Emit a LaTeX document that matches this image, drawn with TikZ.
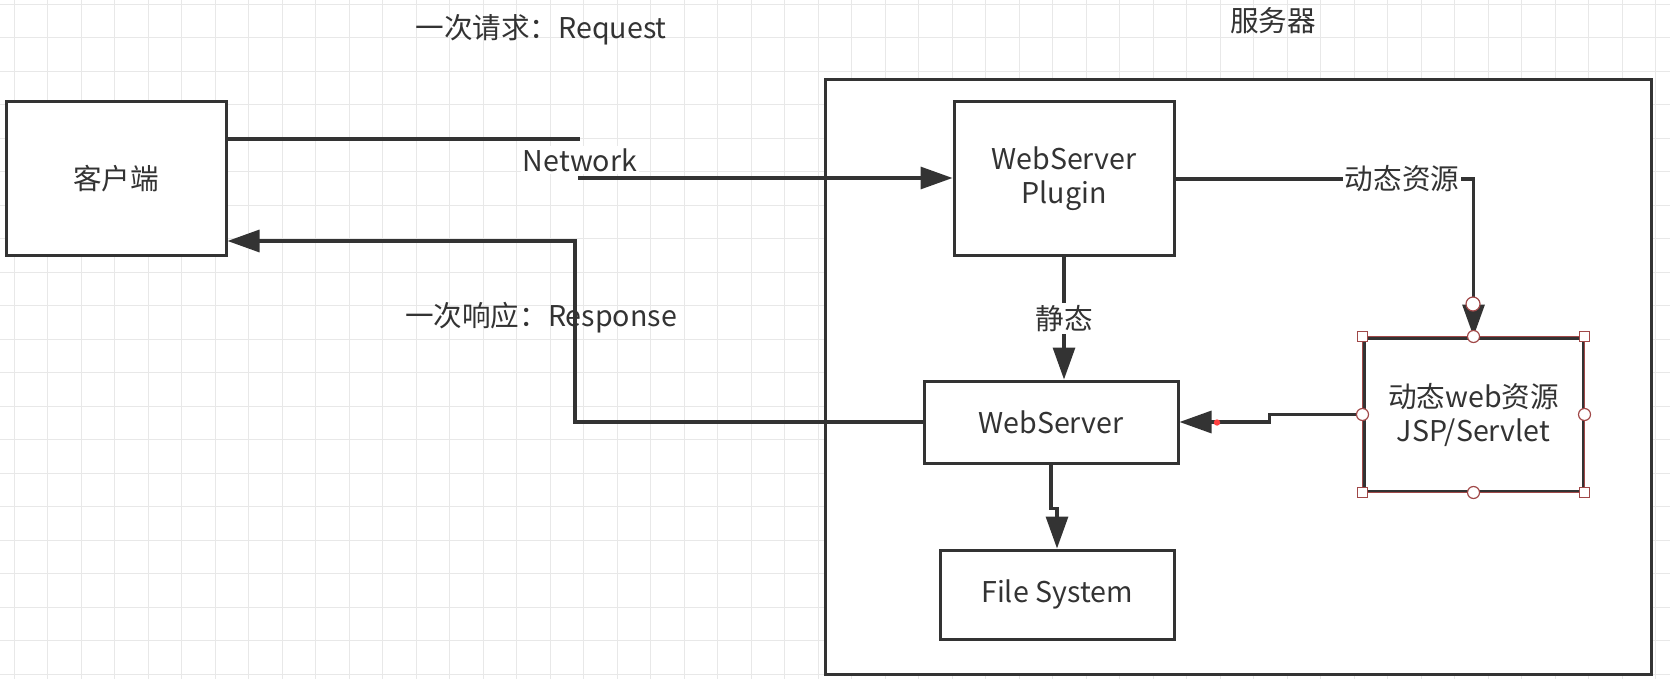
\documentclass[tikz,border=0pt]{standalone}
\usepackage{fontspec}
\setmainfont{Noto Sans CJK SC}
\usetikzlibrary{arrows.meta}
\definecolor{ink}{HTML}{333333}
\definecolor{gridgray}{HTML}{E8E8E8}
\definecolor{hndred}{HTML}{A04848}
\tikzset{
  box/.style={draw=ink, line width=1.5pt, fill=white, text=ink, align=center, inner sep=0pt, font=\fontsize{14.3}{17}\selectfont},
  wire/.style={draw=ink, line width=1.6pt},
  arr/.style={wire, -{Triangle[length=16pt,width=11pt]}},
  lbl/.style={text=ink, font=\fontsize{14.3}{17}\selectfont, inner sep=1pt},
  hnd/.style={draw=hndred, line width=0.6pt, fill=white},
}
\begin{document}
\begin{tikzpicture}[x=0.5pt,y=-0.5pt]
\useasboundingbox (0,0) rectangle (1670,679);
\fill[white] (0,0) rectangle (1670,679);
% background grid
\foreach \gx in {0,...,49} \draw[gridgray, line width=0.6pt] ({14.2+33.5*\gx},0) -- ++(0,679);
\foreach \gy in {0,...,20} \draw[gridgray, line width=0.6pt] (0,{4.3+33.5*\gy}) -- ++(1670,0);

\node[box, minimum width=413pt, minimum height=297pt] (server) at (1238,377) {};
\node[lbl] (servertitle) at (1273,21) {服务器};

\node[box, minimum width=110pt, minimum height=77pt] (client) at (116,179) {客户端};
\node[box, minimum width=110pt, minimum height=77pt] (plugin) at (1064,179) {WebServer\\Plugin};
\node[box, minimum width=127pt, minimum height=41pt] (webserver) at (1051,422) {WebServer};
\node[box, minimum width=109.5pt, minimum height=76.5pt] (jsp) at (1473.5,414.5) {动态web资源\\JSP/Servlet};
\node[box, minimum width=117pt, minimum height=44.5pt] (filesys) at (1057,594.5) {File System};

\node[lbl] (reqtext) at (541,30) {一次请求：Request};
\node[lbl] (resptext) at (541,318) {一次响应：Response};

% request
\coordinate (req) at (580,139);
\coordinate (net) at (578,178);
\draw[wire] (client.east |- req) -- (req);
\draw[arr] (net) -- (plugin.west |- net);
\node[lbl, fill=white] (nettext) at (580,160) {Network};

% response
\coordinate (resp) at (575,241);
\draw[arr] (webserver.west) -| (resp) -- (client.east |- resp);

\draw[arr] (plugin.east) -| (jsp.north) node[lbl, fill=white, pos=0.38] {动态资源};
\draw[arr] (plugin.south) -- (plugin.south |- webserver.north) node[lbl, fill=white, midway] {静态};
\draw[arr] (jsp.west) -- ++(-93,0) |- (webserver.east);
\draw[arr] (webserver.south) -- ++(0,44) -| (filesys.north);
\fill[red!75!white] (1217,422.5) circle (1.6pt);

% selection handles
\draw[hndred, line width=0.5pt] (jsp.north west) rectangle (jsp.south east);
\foreach \a in {north west, north east, south west, south east}
  \draw[hnd] (jsp.\a) ++(-5,-5) rectangle ++(10,10);
\foreach \a in {north, south, east, west}
  \draw[hnd] (jsp.\a) circle (3pt);
\draw[hnd] (1473,304) circle (3.5pt);
\end{tikzpicture}
\end{document}
